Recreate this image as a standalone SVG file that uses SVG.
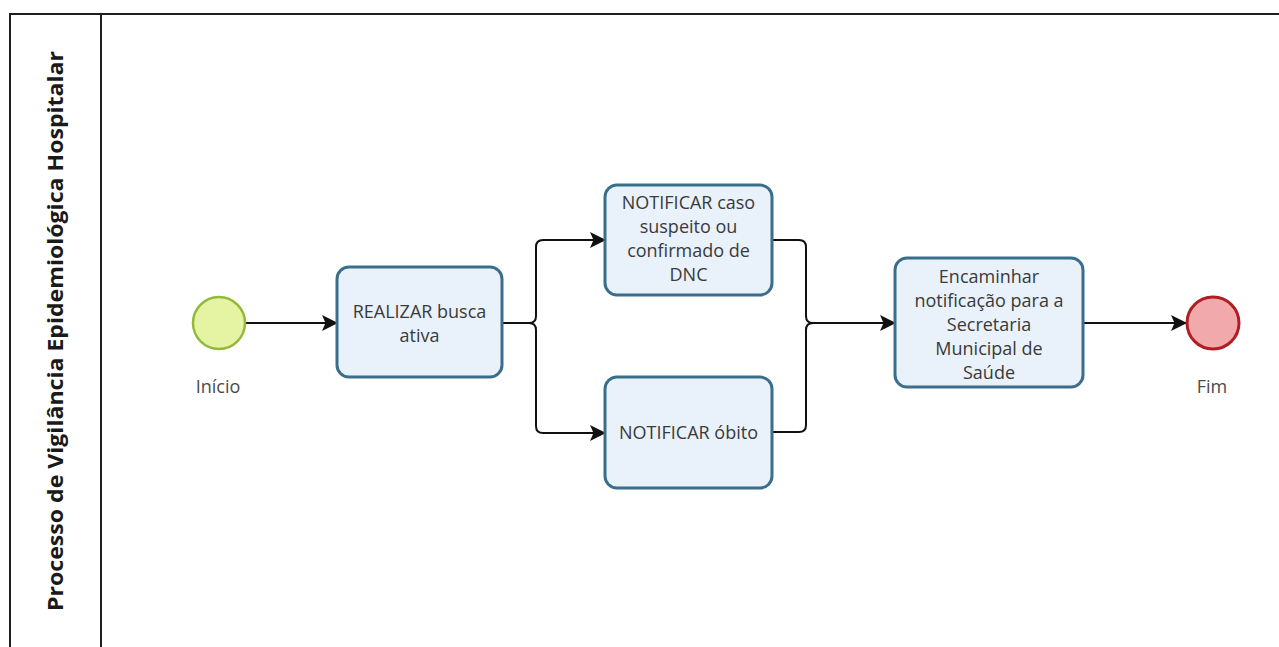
<svg xmlns="http://www.w3.org/2000/svg" width="1279" height="647" viewBox="0 0 1279 647">
<style>
.lane{fill:none;stroke:#1e1e1e;stroke-width:2}
.task rect{fill:#e9f1fb;stroke:#3a6f8c;stroke-width:3}
.t{font-family:"Open Sans","Noto Sans",sans-serif;font-size:18px;fill:#3a3a3a;text-anchor:middle}
.lbl{font-family:"Open Sans","Noto Sans",sans-serif;font-size:18px;fill:#4a4a4a;text-anchor:middle}
.title{font-family:"Open Sans","Liberation Sans",sans-serif;font-size:22px;font-weight:bold;fill:#1a1a1a;text-anchor:middle}
.flow{fill:none;stroke:#111;stroke-width:2}
</style>
<defs>
<marker id="arr" markerWidth="16" markerHeight="16" refX="15" refY="8" orient="auto" markerUnits="userSpaceOnUse">
<path d="M0,0 L16,8 L0,16 L3.5,8 Z" fill="#111"/>
</marker>
</defs>
<rect width="1279" height="647" fill="#ffffff"/>
<g id="lane">
<path class="lane" d="M1279,14 H10 V647"/>
<path class="lane" d="M101,14 V647"/>
<text class="title" transform="translate(63,331) rotate(-90)" textLength="560" lengthAdjust="spacingAndGlyphs">Processo de Vigilância Epidemiológica Hospitalar</text>
</g>
<g id="connectors">
<path class="flow" d="M246,323 H337" marker-end="url(#arr)"/>
<path class="flow" d="M503,323 H529 Q536,323 536,316 V247 Q536,240 543,240 H605" marker-end="url(#arr)"/>
<path class="flow" d="M529,323 Q536,323 536,330 V426 Q536,433 543,433 H605" marker-end="url(#arr)"/>
<path class="flow" d="M772,240 H799 Q806,240 806,247 V316 Q806,323 813,323 H895" marker-end="url(#arr)"/>
<path class="flow" d="M772,432 H799 Q806,432 806,425 V330 Q806,323 813,323"/>
<path class="flow" d="M1083,323 H1186" marker-end="url(#arr)"/>
</g>
<g id="start">
<circle cx="219" cy="323" r="26" fill="#e5f4a2" stroke="#93b93c" stroke-width="2.5"/>
<text class="lbl" x="218" y="393">Início</text>
</g>
<g id="task1" class="task">
<rect x="337" y="267" width="165" height="110" rx="12"/>
<text class="t" x="419.5" y="318">REALIZAR busca</text>
<text class="t" x="419.5" y="342">ativa</text>
</g>
<g id="task2" class="task">
<rect x="605" y="185" width="167" height="110" rx="12"/>
<text class="t" x="688.5" y="209">NOTIFICAR caso</text>
<text class="t" x="688.5" y="233">suspeito ou</text>
<text class="t" x="688.5" y="257">confirmado de</text>
<text class="t" x="688.5" y="281">DNC</text>
</g>
<g id="task3" class="task">
<rect x="605" y="377" width="167" height="111" rx="12"/>
<text class="t" x="688.5" y="439">NOTIFICAR óbito</text>
</g>
<g id="task4" class="task">
<rect x="895" y="258" width="188" height="129" rx="12"/>
<text class="t" x="989" y="283">Encaminhar</text>
<text class="t" x="989" y="307">notificação para a</text>
<text class="t" x="989" y="331">Secretaria</text>
<text class="t" x="989" y="355">Municipal de</text>
<text class="t" x="989" y="379">Saúde</text>
</g>
<g id="end">
<circle cx="1213" cy="323" r="26" fill="#f2a9ab" stroke="#b01e23" stroke-width="3"/>
<text class="lbl" x="1212" y="393">Fim</text>
</g>
</svg>
